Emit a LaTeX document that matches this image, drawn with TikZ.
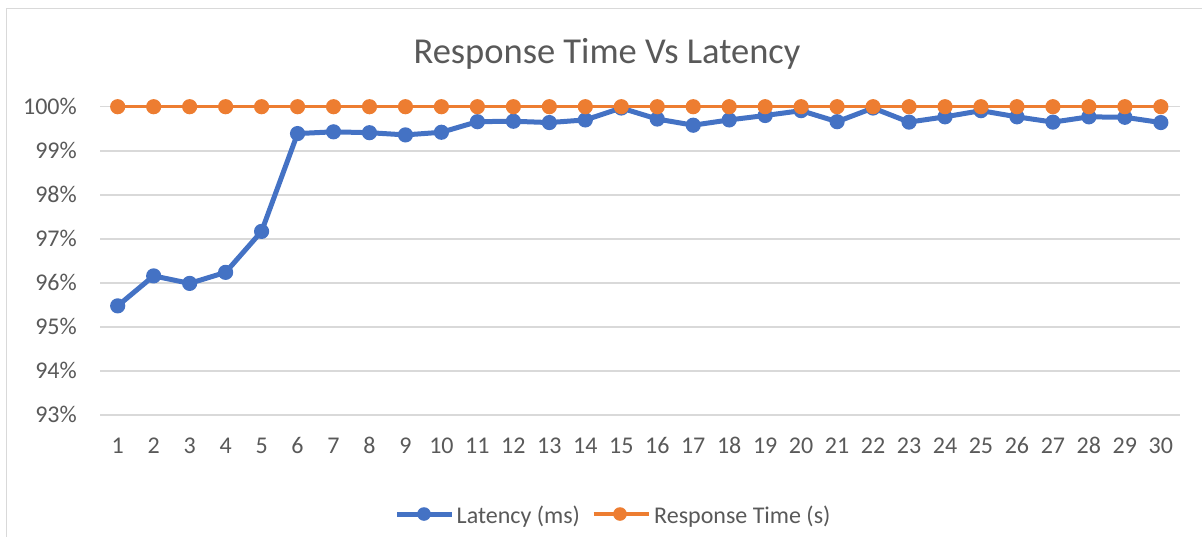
\documentclass[tikz,border=0pt]{standalone}
\usepackage{fontspec}
\setmainfont{Carlito}
\definecolor{txtgray}{HTML}{595959}
\definecolor{gridgray}{HTML}{D9D9D9}
\definecolor{latblue}{HTML}{4472C4}
\definecolor{resporange}{HTML}{ED7D31}
\tikzset{
  gridline/.style={draw=gridgray, line width=1.5pt},
  latline/.style={draw=latblue, line width=5pt, line join=round, line cap=round},
  respline/.style={draw=resporange, line width=2.6pt, line join=round},
  latdot/.style={fill=latblue},
  respdot/.style={fill=resporange},
  axislabel/.style={text=txtgray, font=\fontsize{24}{24}\selectfont, inner sep=0pt},
  charttitle/.style={text=txtgray, font=\fontsize{36.5}{36.5}\selectfont, inner sep=0pt},
}
\begin{document}
\begin{tikzpicture}[x=1pt,y=-1pt]
  \useasboundingbox (0,0) rectangle (1202,536);
  % chart frame (open to the right and bottom)
  \draw[draw=gridgray, line width=1.5pt] (1210,8.5) -- (6.5,8.5) -- (6.5,545);

  % title
  \node[charttitle, anchor=base] (title) at (607,63) {Response Time Vs Latency};

  % horizontal gridlines and value axis labels
  \foreach \p [count=\k from 0] in {100,99,98,97,96,95,94,93} {
    \coordinate (gl\p) at (100,{106.7+\k*44.06});
    \coordinate (gr\p) at (1180,{106.7+\k*44.06});
    \draw[gridline] (gl\p) -- (gr\p);
    \node[axislabel, anchor=base east] (yl\p) at (77,{106.7+\k*44.06+7.8}) {\p\%};
  }

  % category axis labels
  \foreach \i in {1,...,30} {
    \node[axislabel, anchor=base] (xl\i) at ({117.7+(\i-1)*35.97},453.7) {\i};
  }

  % data points
  \foreach \v [count=\i] in {95.48,96.16,95.99,96.24,97.17,99.39,99.43,99.41,99.36,99.42,
                              99.66,99.67,99.64,99.70,99.97,99.72,99.58,99.70,99.80,99.91,
                              99.66,99.97,99.65,99.77,99.91,99.77,99.65,99.77,99.76,99.64} {
    \coordinate (b\i) at ({117.7+(\i-1)*35.97},{106.7+(100-\v)*44.06});
    \coordinate (o\i) at ({117.7+(\i-1)*35.97},106.7);
  }

  % Latency series
  \draw[latline] (b1) \foreach \i in {2,...,30} { -- (b\i) };
  \foreach \i in {1,...,30} { \fill[latdot] (b\i) circle (7.6pt); }

  % Response Time series
  \draw[respline] (o1) \foreach \i in {2,...,30} { -- (o\i) };
  \foreach \i in {1,...,30} { \fill[respdot] (o\i) circle (7.6pt); }

  % legend
  \coordinate (la) at (397,514);
  \coordinate (lb) at (451.5,514);
  \draw[latline, line cap=butt] (la) -- (lb);
  \fill[latdot] (424,514) circle (6.8pt);
  \node[axislabel, anchor=base west] (latlabel) at (456.5,523) {Latency (ms)};
  \coordinate (ra) at (593.5,514);
  \coordinate (rb) at (648.5,514);
  \draw[respline, line width=4.5pt] (ra) -- (rb);
  \fill[respdot] (620,514) circle (6.8pt);
  \node[axislabel, anchor=base west] (resplabel) at (654,523) {Response Time (s)};
\end{tikzpicture}
\end{document}
